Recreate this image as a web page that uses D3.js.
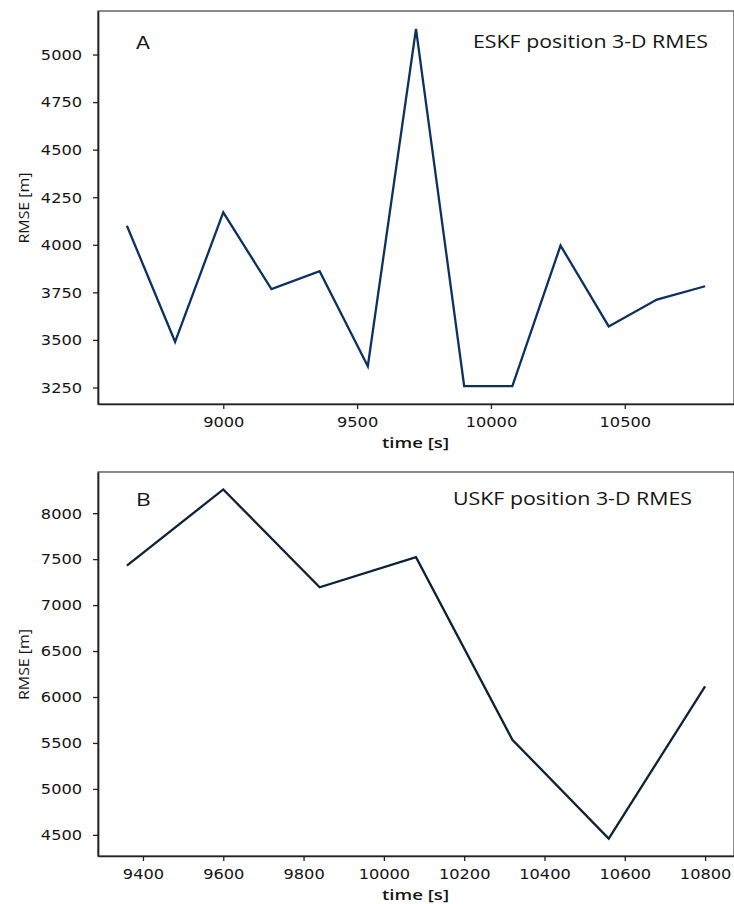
<!DOCTYPE html>
<html>
<head>
<meta charset="utf-8">
<script src="https://cdn.jsdelivr.net/npm/d3@7"></script>
<style>
  html, body { margin: 0; padding: 0; background: #fff; }
  svg { display: block; }
</style>
</head>
<body>
<svg id="chart" width="734" height="904"></svg>
<script>
// panel A - ESKF
var eskfTime = [8640, 8820, 9000, 9180, 9360, 9540, 9720, 9900, 10080, 10260, 10440, 10620, 10800];
var eskfRmse = [4100, 3490, 4170, 3767, 3861, 3362, 5135, 3257, 3257, 3996, 3571, 3712, 3782];
var eskfXTicks = [9000, 9500, 10000, 10500];
var eskfYTicks = [3250, 3500, 3750, 4000, 4250, 4500, 4750, 5000];

// panel B - USKF
var uskfTime = [9360, 9600, 9840, 10080, 10320, 10560, 10800];
var uskfRmse = [7430, 8258, 7194, 7521, 5535, 4460, 6115];
var uskfXTicks = [9400, 9600, 9800, 10000, 10200, 10400, 10600, 10800];
var uskfYTicks = [4500, 5000, 5500, 6000, 6500, 7000, 7500, 8000];

var panels = [
    {letter: 'A', title: 'ESKF position 3-D RMES', x: eskfTime, y: eskfRmse, xTicks: eskfXTicks, yTicks: eskfYTicks,
     left: 98, top: 11, right: 734, bottom: 404, color: '#0c3062', letterFont: 'DejaVu Sans', letterSize: 17,
     titleX: 473, titleY: 48, titleLen: 235},
    {letter: 'B', title: 'USKF position 3-D RMES', x: uskfTime, y: uskfRmse, xTicks: uskfXTicks, yTicks: uskfYTicks,
     left: 98, top: 472, right: 734, bottom: 856, color: '#0b2238', letterFont: 'Open Sans', letterSize: 19,
     titleX: 453, titleY: 505, titleLen: 239}
];

var svg = d3.select('#chart');
var stretch = 'scale(1.2,1)';

// matplotlib style 5% margins
function padded(values) {
    var ext = d3.extent(values), pad = (ext[1] - ext[0]) * 0.05;
    return [ext[0] - pad, ext[1] + pad];
}

panels.forEach(function(p) {
    var x = d3.scaleLinear().domain(padded(p.x)).range([p.left, p.right]),
        y = d3.scaleLinear().domain(padded(p.y)).range([p.bottom, p.top]);

    var g = svg.append('g');

    // frame (top / right lighter than the spines with ticks)
    g.append('rect')
        .attr('x', p.left).attr('y', p.top)
        .attr('width', p.right - p.left).attr('height', p.bottom - p.top)
        .attr('fill', 'none').attr('stroke', '#5a5a5a').attr('stroke-width', 1.4);

    var xAxis = g.append('g')
        .attr('transform', 'translate(0,' + p.bottom + ')')
        .call(d3.axisBottom(x).tickValues(p.xTicks).tickSizeInner(5).tickSizeOuter(0)
            .tickPadding(0).tickFormat(d3.format('d')));

    var yAxis = g.append('g')
        .attr('transform', 'translate(' + p.left + ',0)')
        .call(d3.axisLeft(y).tickValues(p.yTicks).tickSizeInner(5).tickSizeOuter(0)
            .tickFormat(d3.format('d')));

    [xAxis, yAxis].forEach(function(ax) {
        ax.select('.domain').attr('stroke', '#222').attr('stroke-width', 1.7);
        ax.selectAll('.tick line').attr('stroke', '#222').attr('stroke-width', 1.3);
        ax.selectAll('.tick text')
            .attr('fill', '#141414')
            .style('font-family', 'DejaVu Sans')
            .style('font-size', '13.5px');
    });
    xAxis.selectAll('.tick text').attr('y', 13).attr('dy', '0.71em').attr('transform', stretch);
    yAxis.selectAll('.tick text').attr('x', -13.3).attr('dy', '0.36em').attr('transform', stretch);

    // line
    var line = d3.line()
        .x(function(d) { return x(d[0]); })
        .y(function(d) { return y(d[1]); });

    g.append('path')
        .datum(d3.zip(p.x, p.y))
        .attr('d', line)
        .attr('fill', 'none')
        .attr('stroke', p.color)
        .attr('stroke-width', 2.3)
        .attr('stroke-linejoin', 'miter');

    // panel letter
    g.append('text')
        .attr('transform', 'translate(' + (p.left + 38) + ',' + (p.titleY + 1) + ') ' + stretch)
        .style('font-family', p.letterFont)
        .style('font-size', p.letterSize + 'px')
        .attr('fill', '#141414')
        .text(p.letter);

    // title
    g.append('text')
        .attr('x', p.titleX).attr('y', p.titleY)
        .attr('textLength', p.titleLen).attr('lengthAdjust', 'spacingAndGlyphs')
        .style('font-family', 'Open Sans')
        .style('font-size', '19px')
        .attr('fill', '#141414')
        .text(p.title);

    // axis labels
    g.append('text')
        .attr('x', (p.left + p.right) / 2 - 0.5).attr('y', p.bottom + 44)
        .attr('text-anchor', 'middle')
        .attr('textLength', 67).attr('lengthAdjust', 'spacingAndGlyphs')
        .style('font-family', 'Open Sans').style('font-weight', 600)
        .style('font-size', '15px')
        .attr('fill', '#141414')
        .text('time [s]');

    g.append('text')
        .attr('transform', 'translate(29,' + ((p.top + p.bottom) / 2 + 0.5) + ') rotate(-90)')
        .attr('text-anchor', 'middle')
        .attr('textLength', 71).attr('lengthAdjust', 'spacingAndGlyphs')
        .style('font-family', 'Open Sans')
        .style('font-size', '14px')
        .attr('fill', '#141414')
        .text('RMSE [m]');
});
</script>
</body>
</html>
